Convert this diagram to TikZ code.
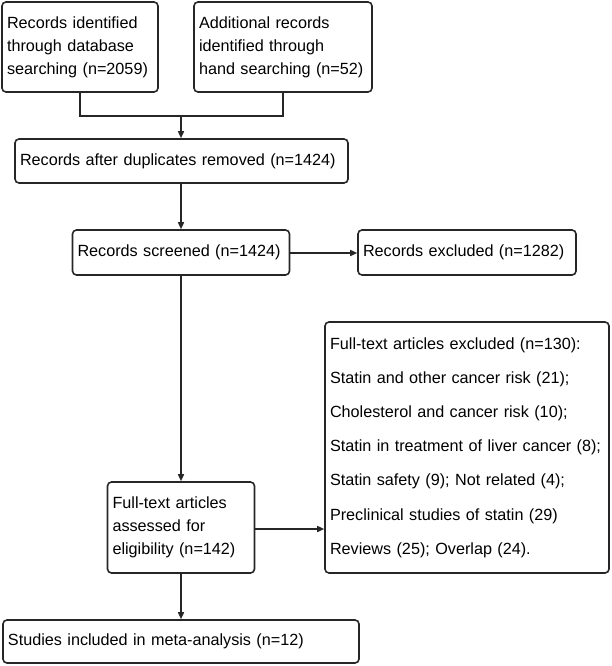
\documentclass[tikz,border=0pt]{standalone}
\usepackage{fontspec}
\setmainfont{Liberation Sans}
\usetikzlibrary{arrows.meta}
\tikzset{
  box/.style={draw=black!85, line width=1.6pt, rounded corners=4pt, inner xsep=5pt, inner ysep=0pt,
     align=left, font=\fontsize{16.2}{23}\selectfont, text=black},
  link/.style={draw=black!85, line width=1.5pt},
  arr/.style={link, -{Triangle[length=7pt,width=6pt]}},
}
\begin{document}
\begin{tikzpicture}[x=1pt,y=-1pt]
\useasboundingbox (0,0) rectangle (612,666);
\node[box, text width=146pt, minimum height=90pt] (b1) at (80,47)
  {Records identified\\through database\\searching (n=2059)};
\node[box, text width=168pt, minimum height=90pt] (b2) at (283,47)
  {Additional records\\identified through\\hand searching (n=52)};
\node[box, text width=323pt, minimum height=44pt] (b3) at (181.5,161)
  {Records after duplicates removed (n=1424)};
\node[box, text width=207pt, minimum height=45pt] (b4) at (181,252.5)
  {Records screened (n=1424)};
\node[box, text width=208pt, minimum height=45pt] (b5) at (467,252.5)
  {Records excluded (n=1282)};
\node[box, text width=137pt, minimum height=91pt] (b6) at (181,527.5)
  {Full-text articles\\assessed for\\eligibility (n=142)};
\node[box, text width=274pt, minimum height=251pt, font=\fontsize{16.2}{34.2}\selectfont] (b7) at (467,447.5)
  {Full-text articles excluded (n=130):\\Statin and other cancer risk (21);\\Cholesterol and cancer risk (10);\\Statin in treatment of liver cancer (8);\\Statin safety (9); Not related (4);\\Preclinical studies of statin (29)\\Reviews (25); Overlap (24).};
\node[box, text width=346pt, minimum height=43pt] (b8) at (181,641.5)
  {Studies included in meta-analysis (n=12)};
\coordinate (j) at (181,116);
\coordinate (e4) at (290,253);
\coordinate (e6) at (254,529);
\draw[link] (b1.south) |- (j) -| (b2.south);
\draw[arr] (j) -- (b3.north -| j);
\draw[arr] (b3.south -| b4.north) -- (b4.north);
\draw[arr] (b4.east |- e4) -- (b5.west |- e4);
\draw[arr] (b4.south) -- (b6.north);
\draw[arr] (b6.east |- e6) -- (b7.west |- e6);
\draw[arr] (b6.south) -- (b8.north);
\end{tikzpicture}
\end{document}
